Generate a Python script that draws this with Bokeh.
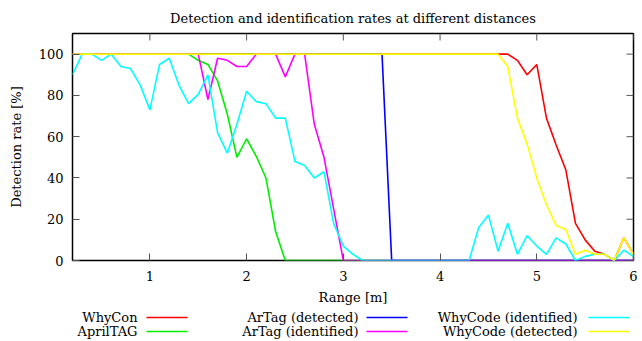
import math
from bokeh.plotting import figure
from bokeh.models import Range1d, FixedTicker, ColumnDataSource
from bokeh.layouts import column
from bokeh.embed import file_html
from bokeh.resources import INLINE
from bokeh.core.properties import value

# ---------------- data ----------------
range_m = [0.2, 0.3, 0.4, 0.5, 0.6, 0.7, 0.8, 0.9, 1.0, 1.1,
           1.2, 1.3, 1.4, 1.5, 1.6, 1.7, 1.8, 1.9, 2.0, 2.1,
           2.2, 2.3, 2.4, 2.5, 2.6, 2.7, 2.8, 2.9, 3.0, 3.1,
           3.2, 3.3, 3.4, 3.5, 3.6, 3.7, 3.8, 3.9, 4.0, 4.1,
           4.2, 4.3, 4.4, 4.5, 4.6, 4.7, 4.8, 4.9, 5.0, 5.1,
           5.2, 5.3, 5.4, 5.5, 5.6, 5.7, 5.8, 5.9, 6.0]

whycon = [100] * 46 + [97, 90, 95, 69, 56, 44, 18, 10, 4.5, 3, 0, 11, 3]

apriltag = [100] * 13 + [97, 95, 87, 71, 50, 59, 50.5, 40, 14] + [0] * 37

artag_detected = [100] * 33 + [0] * 26

artag_identified = [100] * 14 + [78, 98, 97, 94, 94, 100, 100, 100, 89, 100,
                                 100, 66, 50, 25] + [0] * 31

whycode_identified = [90, 100, 100, 97, 100, 94, 93, 85, 73, 95,
                      98, 85, 76, 80.5, 90, 62, 52, 66, 82, 77,
                      76, 69, 69, 48, 46, 40, 43, 18, 7, 3] + [0] * 12 + \
                     [16, 22, 4.5, 18, 3, 12, 7, 3, 11, 8, 0, 2, 3, 3, 0, 5, 2]

whycode_detected = [100] * 45 + [94, 69, 56.5, 40, 27, 17, 15, 3, 5, 3, 3, 0, 11, 3]

series_names = ["WhyCon", "AprilTAG", "ArTag (detected)", "ArTag (identified)",
                "WhyCode (identified)", "WhyCode (detected)"]
series_values = [whycon, apriltag, artag_detected, artag_identified,
                 whycode_identified, whycode_detected]
series_colors = ["#ff0000", "#00ee00", "#0000ff", "#ff00ff", "#00ffff", "#ffff00"]

x_ticks = [1, 2, 3, 4, 5, 6]
y_ticks = [0, 20, 40, 60, 80, 100]

X_MIN, X_MAX = 0.2, 6.0
Y_MIN, Y_MAX = 0, 110

FONT = "DejaVu Serif"
TICK_COLOR = "#555555"
BORDER_L, BORDER_R, FRAME_W = 72, 5, 561

# ---------------- main plot ----------------
p = figure(frame_width=FRAME_W, frame_height=227, output_backend="svg",
           toolbar_location=None,
           x_range=Range1d(X_MIN, X_MAX), y_range=Range1d(Y_MIN, Y_MAX),
           min_border_left=BORDER_L, min_border_right=BORDER_R,
           min_border_top=33, min_border_bottom=0,
           title="Detection and identification rates at different distances")
p.title.text_font = FONT
p.title.text_font_size = "13px"
p.title.text_font_style = "normal"
p.title.align = "center"
p.title.text_color = "black"
p.title.standoff = 16

p.xgrid.visible = False
p.ygrid.visible = False
p.outline_line_color = "black"
p.outline_line_width = 1.5
p.background_fill_color = "white"
p.border_fill_color = "white"

for name, vals, col in zip(series_names, series_values, series_colors):
    p.line(range_m, vals, line_color=col, line_width=1.6)

# mirrored inward ticks on the right and top edges (gnuplot style)
p.scatter(x=[X_MAX] * len(y_ticks), y=y_ticks, marker="dash", size=14,
          line_color=TICK_COLOR, line_width=1)
p.scatter(x=x_ticks, y=[Y_MAX] * len(x_ticks), marker="dash", size=14,
          angle=math.pi / 2, line_color=TICK_COLOR, line_width=1)

def style_axis(ax, ticks):
    ax.ticker = FixedTicker(ticks=ticks)
    ax.axis_line_color = None
    ax.major_tick_in = 7
    ax.major_tick_out = 0
    ax.major_tick_line_color = TICK_COLOR
    ax.major_tick_line_width = 1
    ax.minor_tick_line_color = None
    ax.major_label_text_font = FONT
    ax.major_label_text_font_size = "13px"
    ax.major_label_text_color = "black"
    ax.axis_label_text_font = FONT
    ax.axis_label_text_font_size = "13px"
    ax.axis_label_text_font_style = "normal"
    ax.axis_label_text_color = "black"

xa = p.xaxis[0]
style_axis(xa, x_ticks)
xa.axis_label = "Range [m]"
xa.major_label_standoff = 10
xa.axis_label_standoff = 6

ya = p.yaxis[0]
style_axis(ya, y_ticks)
ya.axis_label = "Detection rate [%]"
ya.major_label_standoff = 9
ya.axis_label_standoff = 12

# ---------------- legend (gnuplot style: label then sample) ----------------
# legend frame has the same borders as the plot, so x units are page pixels
LEG_X0, LEG_X1 = BORDER_L, BORDER_L + FRAME_W
leg = figure(frame_width=FRAME_W, height=32, output_backend="svg",
             toolbar_location=None,
             x_range=Range1d(LEG_X0, LEG_X1), y_range=Range1d(0, 32),
             x_axis_location=None, y_axis_location=None,
             min_border_left=BORDER_L, min_border_right=BORDER_R,
             min_border_top=0, min_border_bottom=0)
leg.xgrid.visible = False
leg.ygrid.visible = False
leg.outline_line_color = None

text_right = [137, 137, 358, 358, 577, 577]
line_left = [146, 146, 366, 366, 588, 588]
line_len = 41
row_y = [22, 8, 22, 8, 22, 8]

leg_src = ColumnDataSource(dict(
    tx=text_right, ty=row_y, label=series_names,
    x0=line_left, x1=[v + line_len for v in line_left], color=series_colors))
leg.text(x="tx", y="ty", text="label", source=leg_src,
         text_font=value(FONT), text_font_size="13px", text_align="right",
         text_baseline="middle", text_color="black")
leg.segment(x0="x0", y0="ty", x1="x1", y1="ty", source=leg_src,
            line_color="color", line_width=1.6)

layout = column(p, leg, spacing=0)
open("out.html", "w").write(file_html(layout, INLINE))
